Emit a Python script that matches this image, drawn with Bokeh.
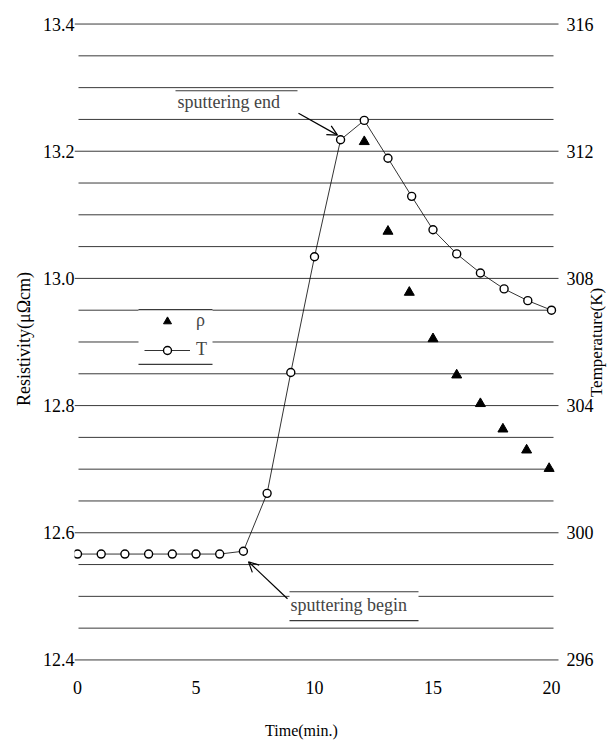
import math
from bokeh.plotting import figure
from bokeh.models import (Range1d, FixedTicker, NumeralTickFormatter, LinearAxis,
                          Legend, LegendItem, Label, Arrow, OpenHead)
from bokeh.core.properties import value
from bokeh.embed import file_html
from bokeh.resources import INLINE

# ---------------- data ----------------
time_T = [0, 1, 2, 3, 4, 5, 6, 7, 8, 9, 10, 11.1, 12.1, 13.1, 14.1, 15.0, 16.0, 17.0, 18.0, 19.0, 20.0]
temperature_K = [299.33, 299.33, 299.33, 299.33, 299.33, 299.33, 299.33, 299.42, 301.24, 305.04,
                 308.68, 312.36, 312.97, 311.78, 310.58, 309.53, 308.77, 308.17, 307.67, 307.30, 307.00]
time_rho = [12.1, 13.1, 14.0, 15.0, 16.0, 17.0, 17.95, 18.95, 19.9]
resistivity = [13.215, 13.074, 12.978, 12.905, 12.848, 12.803, 12.763, 12.730, 12.701]

x_ticks = [0, 5, 10, 15, 20]
rho_ticks = [12.4, 12.6, 12.8, 13.0, 13.2, 13.4]
temp_ticks = [296, 300, 304, 308, 312, 316]
temp_tick_labels = ["296", "300", "304", "308", "312", "316"]
minor_levels = [12.45, 12.5, 12.55, 12.65, 12.7, 12.75, 12.85, 12.9, 12.95,
                13.05, 13.1, 13.15, 13.25, 13.3, 13.35]
x_title = "Time(min.)"
x_title_at = 9.45          # where the x title sits along the time axis

# ---------------- layout constants ----------------
W, H = 607, 741
FL, FR, FT, FB = 74, 607, 5, 674           # frame edges in figure px
PXX = 23.7                                 # px per minute
PXY = 637.8                                # px per µΩcm
X0 = -(77 - FL) / PXX
X1 = X0 + (FR - FL) / PXX
Y1 = 13.4 + (23.6 - FT) / PXY
Y0 = 12.4 - (FB - 661.4) / PXY
T0 = 296 + (Y0 - 12.4) * 20
T1 = 296 + (Y1 - 12.4) * 20
SERIF = "Liberation Serif"
INK = "#3a3a3a"

def dx(px):   # pixel -> x data
    return X0 + (px - FL) / PXX
def dy(py):   # pixel -> resistivity data
    return Y0 + (FB - py) / PXY

p = figure(width=W, height=H, output_backend="svg", toolbar_location=None,
           x_range=Range1d(X0, X1), y_range=Range1d(Y0, Y1),
           min_border_left=FL, min_border_right=0,
           min_border_top=FT, min_border_bottom=H - FB,
           background_fill_color="white", border_fill_color="white")
p.outline_line_color = None
p.extra_y_ranges = {"temp": Range1d(T0, T1)}
p.xgrid.grid_line_color = None
p.ygrid.grid_line_color = None

# major horizontal lines (with the tick extensions)
m = len(rho_ticks)
p.segment(x0=[dx(74)] * m, x1=[dx(558)] * m, y0=rho_ticks, y1=rho_ticks,
          line_color=INK, line_width=1)
# minor horizontal lines (shorter)
n = len(minor_levels)
p.segment(x0=[dx(78)] * n, x1=[dx(553)] * n, y0=minor_levels, y1=minor_levels,
          line_color=INK, line_width=1)

# white boxes for annotations / legend
p.quad(left=[dx(138), dx(289)], right=[dx(212), dx(418)],
       bottom=[dy(365), dy(622)], top=[dy(310), dy(593)],
       fill_color="white", line_color=None)
seg_x0 = [dx(138), dx(138), dx(289), dx(289), dx(175)]
seg_x1 = [dx(212), dx(212), dx(418), dx(418), dx(297)]
seg_y = [dy(310), dy(365), dy(593), dy(622), dy(90.5)]
p.segment(x0=seg_x0, x1=seg_x1, y0=seg_y, y1=seg_y, line_color=INK, line_width=1.2)

# data
tline = p.line(time_T, temperature_K, y_range_name="temp", line_color="black", line_width=0.8)
tcirc = p.scatter(time_T, temperature_K, y_range_name="temp", marker="circle", size=8,
                  fill_color="white", line_color="black", line_width=1.4)
tri = p.scatter(time_rho, resistivity, marker="triangle", size=10,
                fill_color="black", line_color="black")

# right-hand temperature scale (tick labels placed through the "temp" range)
p.text(x=[dx(566)] * len(temp_ticks), y=temp_ticks, text=temp_tick_labels,
       y_range_name="temp", text_align="left", text_baseline="middle",
       text_font=value(SERIF), text_font_size=value("18px"), text_color="black")
p.add_layout(Label(x=dx(596), y=dy(343), text="Temperature(K)", angle=math.pi / 2,
                   text_align="center", text_baseline="middle",
                   text_font=SERIF, text_font_size="17px", text_color="black"))

def plain(axis):
    axis.axis_line_color = None
    axis.major_tick_line_color = None
    axis.minor_tick_line_color = None
    axis.major_tick_out = 0
    axis.major_tick_in = 0
    axis.minor_tick_out = 0
    axis.minor_tick_in = 0
    axis.major_label_text_font = SERIF
    axis.major_label_text_font_size = "18px"
    axis.major_label_text_color = "black"
    axis.axis_label_text_font = SERIF
    axis.axis_label_text_font_style = "normal"
    axis.axis_label_text_color = "black"

ax = p.xaxis[0]
plain(ax)
ax.ticker = FixedTicker(ticks=x_ticks)
ax.major_label_standoff = 8

ay = p.yaxis[0]
plain(ay)
ay.ticker = FixedTicker(ticks=rho_ticks)
ay.formatter = NumeralTickFormatter(format="0.0")
ay.major_label_standoff = 0
ay.axis_label = "Resistivity(μΩcm)"
ay.axis_label_text_font_size = "18px"
ay.axis_label_standoff = 6

# x title: an outer bottom axis whose single label is the title
ax2 = LinearAxis(ticker=FixedTicker(ticks=[x_title_at]),
                 major_label_overrides={x_title_at: x_title})
plain(ax2)
ax2.major_label_text_font_size = "16px"
ax2.major_label_standoff = 25
p.add_layout(ax2, "below")

# legend
legend = Legend(items=[LegendItem(label="ρ", renderers=[tri]),
                       LegendItem(label="T", renderers=[tline, tcirc])],
                location=(65, FB - 367), background_fill_alpha=0, border_line_alpha=0,
                padding=5, spacing=8, glyph_width=46, glyph_height=20, label_height=20,
                label_standoff=6, margin=0,
                label_text_font=SERIF, label_text_font_size="18px")
p.add_layout(legend)

# annotations
p.add_layout(Label(x=dx(177), y=dy(102), text="sputtering end", text_align="left",
                   text_baseline="middle", text_font=SERIF, text_font_size="18px"))
p.add_layout(Label(x=dx(290), y=dy(606), text="sputtering begin", text_align="left",
                   text_baseline="middle", text_font=SERIF, text_font_size="18px"))
p.add_layout(Arrow(end=OpenHead(size=10, line_width=1.2, line_color="black"),
                   x_start=dx(298), y_start=dy(113), x_end=dx(337), y_end=dy(135),
                   line_width=1.2, line_color="black"))
p.add_layout(Arrow(end=OpenHead(size=10, line_width=1.2, line_color="black"),
                   x_start=dx(287), y_start=dy(600), x_end=dx(248), y_end=dy(563),
                   line_width=1.2, line_color="black"))

open("out.html", "w").write(file_html(p, INLINE))
